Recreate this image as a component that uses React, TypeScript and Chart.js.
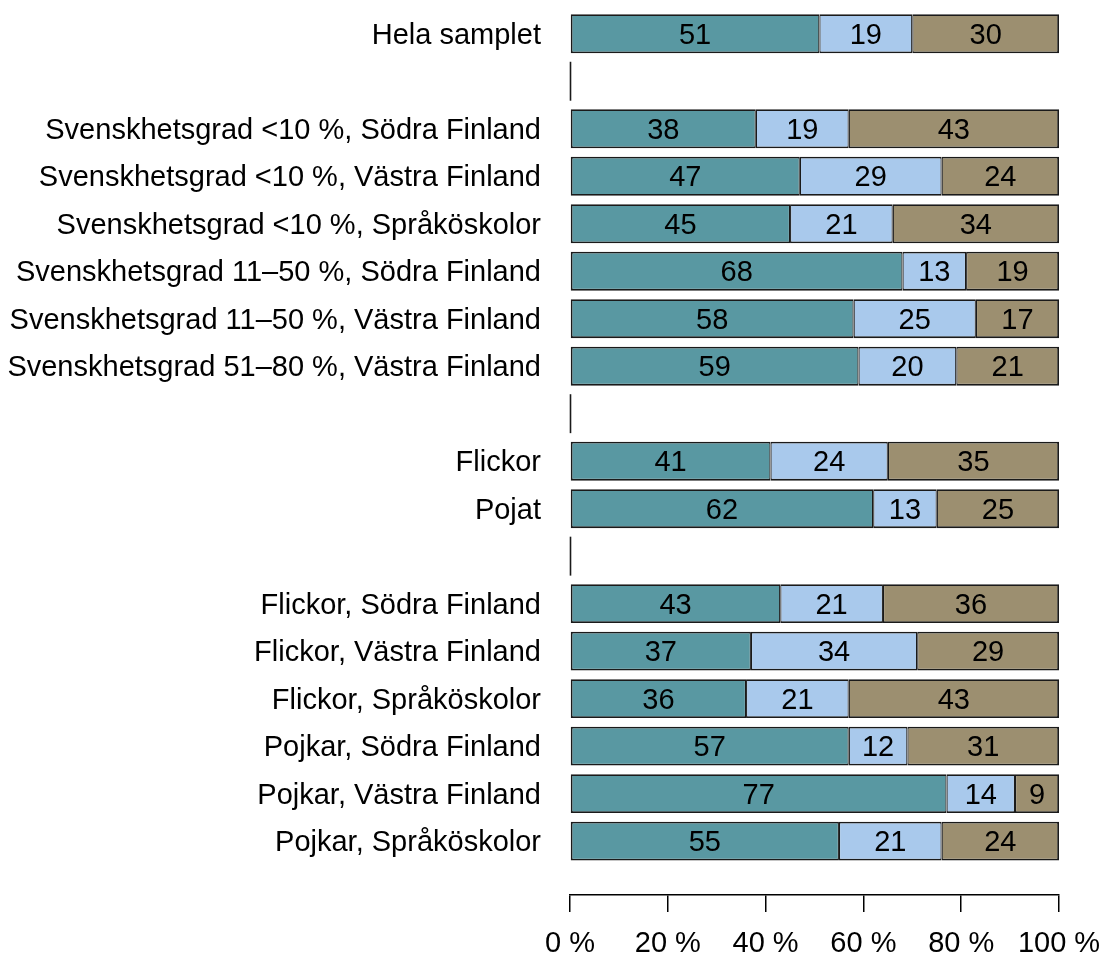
import React, { useEffect, useRef } from "react";
import { Chart, registerables } from "chart.js";

Chart.register(...registerables);

const rowLabels: string[] = [
  "Hela samplet",
  "",
  "Svenskhetsgrad <10 %, Södra Finland",
  "Svenskhetsgrad <10 %, Västra Finland",
  "Svenskhetsgrad <10 %, Språköskolor",
  "Svenskhetsgrad 11–50 %, Södra Finland",
  "Svenskhetsgrad 11–50 %, Västra Finland",
  "Svenskhetsgrad 51–80 %, Västra Finland",
  "",
  "Flickor",
  "Pojat",
  "",
  "Flickor, Södra Finland",
  "Flickor, Västra Finland",
  "Flickor, Språköskolor",
  "Pojkar, Södra Finland",
  "Pojkar, Västra Finland",
  "Pojkar, Språköskolor",
];

const seriesA: (number | null)[] = [51, null, 38, 47, 45, 68, 58, 59, null, 41, 62, null, 43, 37, 36, 57, 77, 55];
const seriesB: (number | null)[] = [19, null, 19, 29, 21, 13, 25, 20, null, 24, 13, null, 21, 34, 21, 12, 14, 21];
const seriesC: (number | null)[] = [30, null, 43, 24, 34, 19, 17, 21, null, 35, 25, null, 36, 29, 43, 31, 9, 24];

const xTicks: number[] = [0, 20, 40, 60, 80, 100];

const FONT_FAMILY = "'Liberation Sans', Arial, Helvetica, sans-serif";
const FONT_SIZE = 29;
const EDGE = "#1a1a1a";

const toPoints = (vals: (number | null)[]) =>
  vals
    .map((v, i) => (v == null ? null : { x: v, y: i }))
    .filter((p) => p !== null) as { x: number; y: number }[];

const valueLabelPlugin = {
  id: "valueLabels",
  afterDatasetsDraw(chart: any) {
    const ctx = chart.ctx;
    ctx.save();
    ctx.font = `${FONT_SIZE}px ${FONT_FAMILY}`;
    ctx.fillStyle = "#000";
    ctx.textAlign = "center";
    ctx.textBaseline = "middle";
    chart.data.datasets.forEach((ds: any, di: number) => {
      const meta = chart.getDatasetMeta(di);
      meta.data.forEach((el: any, j: number) => {
        const raw = ds.data[j];
        if (!raw) return;
        const { x, y, base } = el.getProps(["x", "y", "base"], true);
        ctx.fillText(String(raw.x), (x + base) / 2, y + 2);
      });
    });
    // separator marks for empty rows
    const xs = chart.scales.x;
    const ys = chart.scales.y;
    const first = chart.getDatasetMeta(0).data[0];
    const half = first ? first.height / 2 : 19;
    const x0 = Math.round(xs.getPixelForValue(0)) + 0.5;
    ctx.strokeStyle = EDGE;
    ctx.lineWidth = 1.6;
    rowLabels.forEach((lab, i) => {
      if (lab !== "") return;
      const yc = ys.getPixelForValue(i);
      ctx.beginPath();
      ctx.moveTo(x0, yc - half);
      ctx.lineTo(x0, yc + half);
      ctx.stroke();
    });
    ctx.restore();
  },
};

export default function App() {
  const canvasRef = useRef<HTMLCanvasElement | null>(null);

  useEffect(() => {
    if (!canvasRef.current) return;
    const font = { family: FONT_FAMILY, size: FONT_SIZE };
    const common = {
      borderColor: EDGE,
      borderSkipped: false as const,
      barPercentage: 0.82,
      categoryPercentage: 1,
    };
    const chart = new Chart(canvasRef.current, {
      type: "bar",
      data: {
        datasets: [
          {
            label: "A",
            data: toPoints(seriesA),
            backgroundColor: "#5998a2",
            borderWidth: { top: 1.8, bottom: 1.8, left: 1.8, right: 1.2 },
            ...common,
          },
          {
            label: "B",
            data: toPoints(seriesB),
            backgroundColor: "#a9c9ec",
            borderWidth: { top: 1.8, bottom: 1.8, left: 1.2, right: 1.2 },
            ...common,
          },
          {
            label: "C",
            data: toPoints(seriesC),
            backgroundColor: "#9c8f70",
            borderWidth: { top: 1.8, bottom: 1.8, left: 1.2, right: 1.8 },
            ...common,
          },
        ] as any,
      },
      options: {
        indexAxis: "y",
        responsive: false,
        animation: false,
        events: [],
        layout: { padding: { left: 0, right: 43, top: 10, bottom: 0 } },
        plugins: {
          legend: { display: false },
          tooltip: { enabled: false },
        },
        scales: {
          x: {
            type: "linear",
            min: 0,
            max: 100,
            stacked: true,
            offset: false,
            afterBuildTicks: (s: any) => {
              s.ticks = xTicks.map((v) => ({ value: v }));
            },
            ticks: {
              callback: (v: any) => `${v} %`,
              font,
              color: "#000",
              padding: 15,
              maxRotation: 0,
              autoSkip: false,
            },
            grid: {
              drawOnChartArea: false,
              drawTicks: true,
              tickLength: 17,
              color: "#000",
              lineWidth: 1.5,
            },
            border: { display: true, color: "#000", width: 1.5 },
            afterFit: (s: any) => {
              s.height = 63;
              s.paddingLeft = 0;
              s.paddingRight = 0;
            },
          },
          y: {
            type: "linear",
            reverse: true,
            min: -0.5,
            max: 18.135,
            stacked: true,
            offset: false,
            afterBuildTicks: (s: any) => {
              s.ticks = rowLabels.map((_, i) => ({ value: i }));
            },
            ticks: {
              callback: (v: any) => rowLabels[v] ?? "",
              font,
              color: "#000",
              padding: 29,
              labelOffset: 2,
              autoSkip: false,
            },
            grid: { display: false, drawTicks: false, offset: false },
            border: { display: false },
            afterFit: (s: any) => {
              s.width = 570;
              s.paddingTop = 0;
              s.paddingBottom = 0;
            },
          },
        },
      } as any,
      plugins: [valueLabelPlugin],
    });
    return () => chart.destroy();
  }, []);

  return (
    <div style={{ position: "absolute", left: 0, top: 0, width: 1102, height: 958, background: "#fff" }}>
      <canvas ref={canvasRef} width={1102} height={958} style={{ display: "block" }} />
    </div>
  );
}
